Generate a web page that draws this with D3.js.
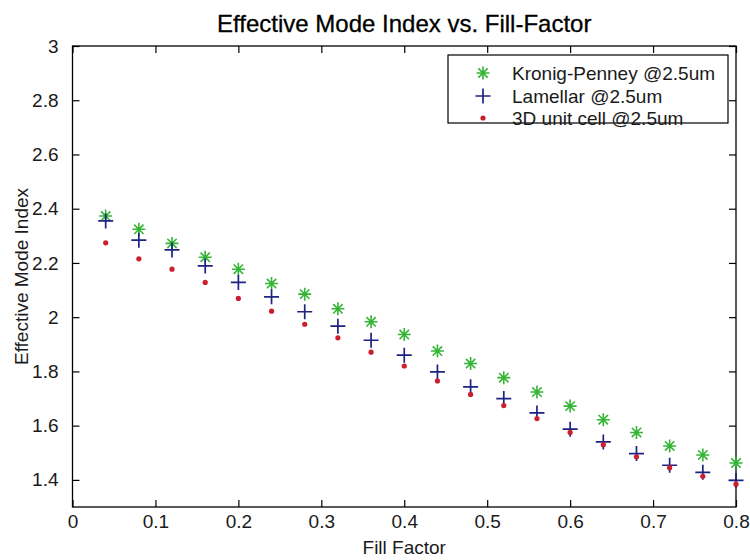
<!DOCTYPE html>
<html>
<head>
<meta charset="utf-8">
<script src="https://cdn.jsdelivr.net/npm/d3@7"></script>
<style>
  html, body { margin: 0; padding: 0; background: #fff; }
  svg { display: block; font-family: "Liberation Sans", Arial, sans-serif; }
</style>
</head>
<body>
<svg id="chart" width="750" height="560"></svg>
<script>
// ---- data ----
const fillFactor = [0.04, 0.08, 0.12, 0.16, 0.20, 0.24, 0.28, 0.32, 0.36, 0.40,
                    0.44, 0.48, 0.52, 0.56, 0.60, 0.64, 0.68, 0.72, 0.76, 0.80];
const kronigPenney = [2.373, 2.324, 2.272, 2.221, 2.177, 2.124, 2.085, 2.031, 1.983, 1.936,
                      1.875, 1.829, 1.777, 1.724, 1.672, 1.622, 1.575, 1.525, 1.492, 1.462];
const lamellar = [2.355, 2.284, 2.248, 2.189, 2.128, 2.075, 2.020, 1.967, 1.915, 1.860,
                  1.798, 1.743, 1.700, 1.647, 1.587, 1.540, 1.497, 1.454, 1.428, 1.398];
const unitCell3D = [2.274, 2.215, 2.177, 2.128, 2.069, 2.022, 1.974, 1.924, 1.871, 1.820,
                    1.765, 1.715, 1.674, 1.626, 1.575, 1.530, 1.485, 1.445, 1.413, 1.384];
const seriesNames = ["Kronig-Penney @2.5um", "Lamellar @2.5um", "3D unit cell @2.5um"];
const xTicks = [0, 0.1, 0.2, 0.3, 0.4, 0.5, 0.6, 0.7, 0.8];
const yTicks = [1.4, 1.6, 1.8, 2, 2.2, 2.4, 2.6, 2.8, 3];
const titleText = "Effective Mode Index vs. Fill-Factor";
const xLabel = "Fill Factor";
const yLabel = "Effective Mode Index";

// ---- layout ----
const svg = d3.select("#chart");
const L = 72.5, R = 736, T = 46, B = 507;
const x = d3.scaleLinear().domain([0, 0.8]).range([L, R]);
const y = d3.scaleLinear().domain([1.3, 3]).range([B, T]);
const tickLen = 7;
const textColor = "#1a1a1a";

// frame
svg.append("rect").attr("x", L).attr("y", T).attr("width", R - L).attr("height", B - T)
  .attr("fill", "none").attr("stroke", "#000").attr("stroke-width", 1.3);

// axes
const fmt = d => d3.format("")(+d.toFixed(1));
const xAxisB = svg.append("g").attr("transform", `translate(0,${B})`)
  .call(d3.axisBottom(x).tickValues(xTicks).tickSizeInner(-tickLen).tickSizeOuter(0).tickPadding(8).tickFormat(fmt));
const xAxisT = svg.append("g").attr("transform", `translate(0,${T})`)
  .call(d3.axisTop(x).tickValues(xTicks).tickSizeInner(-tickLen).tickSizeOuter(0).tickFormat(""));
const yAxisL = svg.append("g").attr("transform", `translate(${L},0)`)
  .call(d3.axisLeft(y).tickValues(yTicks).tickSizeInner(-tickLen).tickSizeOuter(0).tickPadding(tickLen + 7).tickFormat(fmt));
const yAxisR = svg.append("g").attr("transform", `translate(${R},0)`)
  .call(d3.axisRight(y).tickValues(yTicks).tickSizeInner(-tickLen).tickSizeOuter(0).tickFormat(""));
[xAxisB, xAxisT, yAxisL, yAxisR].forEach(g => {
  g.select(".domain").remove();
  g.selectAll(".tick line").attr("stroke", "#000").attr("stroke-width", 1.2);
  g.selectAll(".tick text").attr("fill", textColor).attr("font-size", 19)
    .attr("font-family", "'Liberation Sans', Arial, sans-serif");
});

// title & labels
svg.append("text").attr("x", (L + R) / 2).attr("y", 32).attr("text-anchor", "middle")
  .attr("font-size", 24).attr("fill", "#000").attr("stroke", "#000").attr("stroke-width", 0.3)
  .text(titleText);
svg.append("text").attr("x", (L + R) / 2).attr("y", 554).attr("text-anchor", "middle")
  .attr("font-size", 19).attr("fill", textColor).text(xLabel);
svg.append("text").attr("transform", `translate(28,${(T + B) / 2}) rotate(-90)`)
  .attr("text-anchor", "middle").attr("font-size", 19).attr("fill", textColor).text(yLabel);

// markers
const green = "#35b535", blue = "#1c2383", red = "#cc1f2e";
function asterisk(g, cx, cy) {
  const r = 6.5, d = r * 0.72;
  const p = `M${cx - r},${cy}L${cx + r},${cy}M${cx},${cy - r}L${cx},${cy + r}` +
            `M${cx - d},${cy - d}L${cx + d},${cy + d}M${cx - d},${cy + d}L${cx + d},${cy - d}`;
  g.append("path").attr("d", p).attr("stroke", green).attr("stroke-width", 1.6).attr("fill", "none");
}
function plus(g, cx, cy) {
  const r = 7.5;
  g.append("path").attr("d", `M${cx - r},${cy}L${cx + r},${cy}M${cx},${cy - r}L${cx},${cy + r}`)
    .attr("stroke", blue).attr("stroke-width", 1.7).attr("fill", "none");
}
function dot(g, cx, cy) {
  g.append("circle").attr("cx", cx).attr("cy", cy).attr("r", 2.6).attr("fill", red);
}

const marks = svg.append("g");
const gK = marks.append("g"), gL = marks.append("g"), gU = marks.append("g");
fillFactor.forEach((f, i) => asterisk(gK, x(f), y(kronigPenney[i])));
fillFactor.forEach((f, i) => plus(gL, x(f), y(lamellar[i])));
fillFactor.forEach((f, i) => dot(gU, x(f), y(unitCell3D[i])));

// legend
const lg = svg.append("g");
lg.append("rect").attr("x", 448).attr("y", 55).attr("width", 280).attr("height", 68)
  .attr("fill", "#fff").attr("stroke", "#000").attr("stroke-width", 1.2);
const rows = [73, 96, 118];
const drawers = [asterisk, plus, dot];
seriesNames.forEach((n, i) => {
  drawers[i](lg, 483, rows[i]);
  lg.append("text").attr("x", 512).attr("y", rows[i]).attr("dy", "0.35em")
    .attr("font-size", 19).attr("fill", textColor).text(n);
});
</script>
</body>
</html>
